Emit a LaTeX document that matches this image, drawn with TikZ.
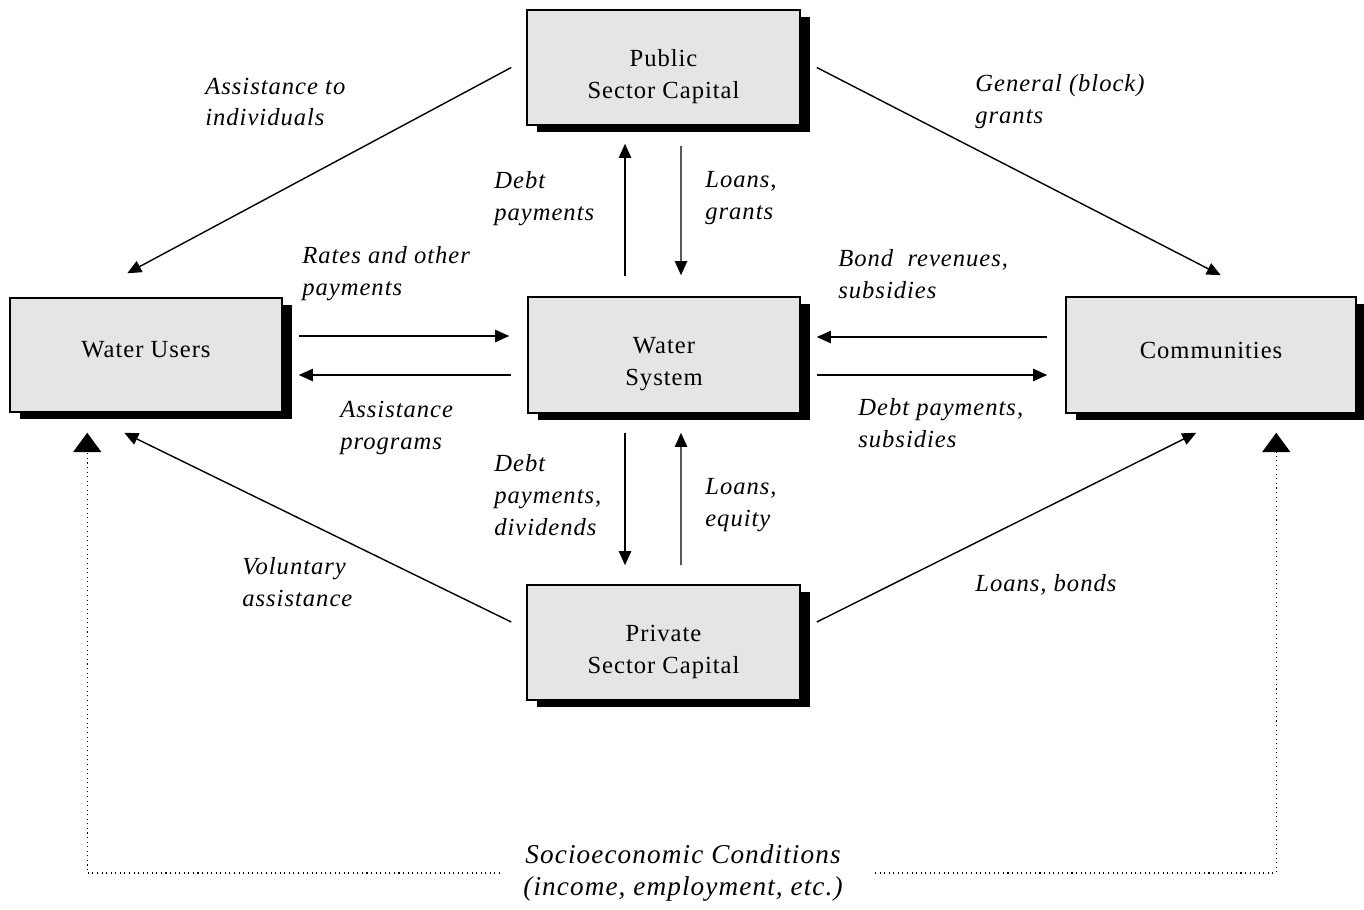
\documentclass[tikz,border=0pt]{standalone}
\usepackage{fontspec}
\setmainfont{Liberation Serif}[LetterSpace=4]
\usetikzlibrary{arrows.meta,shadows,calc}
\definecolor{boxgray}{gray}{0.9}
\begin{document}
\begin{tikzpicture}[x=0.02cm,y=-0.02cm,
 box/.style={draw=black, line width=0.9pt, fill=boxgray, minimum width=5.46cm, minimum height=2.3cm,
   drop shadow={shadow xshift=0.2cm, shadow yshift=-0.14cm, fill=black, opacity=1}},
 boxtext/.style={align=center, inner sep=0pt, font=\fontsize{14}{18.2}\selectfont},
 lbl/.style={font=\fontsize{14}{18.2}\selectfont\itshape, align=left, anchor=west, inner sep=0pt},
 flow/.style={line width=0.8pt, -{Triangle[length=8pt,width=7pt]}},
 dotflow/.style={line width=0.6pt, dotted, -{Triangle[length=11pt,width=16pt]}}]
\useasboundingbox (0,0) rectangle (1364,909);

\node[box] (pub) at (663.5,67.5) {};
\node[box, minimum width=5.44cm, minimum height=2.28cm] (wu) at (146,355) {};
\node[box, minimum width=5.44cm, minimum height=2.32cm] (ws) at (664,355) {};
\node[box, minimum width=5.8cm, minimum height=2.32cm] (com) at (1211,355) {};
\node[box] (pri) at (663.5,642.5) {};

\node[boxtext] (pubt) at ($(pub.center)+(0,9)$) {Public\\Sector Capital};
\node[boxtext] (wut) at ($(wu.center)+(0,-5)$) {Water Users};
\node[boxtext] (wst) at ($(ws.center)+(0,9)$) {Water\\System};
\node[boxtext] (comt) at ($(com.center)+(0,-5)$) {Communities};
\node[boxtext] (prit) at ($(pri.center)+(0,9)$) {Private\\Sector Capital};

\draw[flow] ($(pub.west)+(-15,0)$) -- ($(wu.north west)+(118,-24)$);
\draw[flow] ($(pub.east)+(16,0)$) -- ($(com.north east)+(-136,-21)$);
\draw[flow] ($(ws.north)+(-39,-20)$) -- ($(pub.south)+(-38.5,18)$);
\draw[flow] ($(pub.south)+(17.5,20)$) -- ($(ws.north)+(17,-21)$);
\draw[flow] ($(wu.east)+(16,-19)$) -- ($(ws.west)+(-18,-19)$);
\draw[flow] ($(ws.west)+(-16,20)$) -- ($(wu.east)+(16,20)$);
\draw[flow] ($(com.west)+(-18,-18)$) -- ($(ws.east)+(16,-18)$);
\draw[flow] ($(ws.east)+(16,20)$) -- ($(com.west)+(-18,20)$);
\draw[flow] ($(ws.south)+(-39,19)$) -- ($(pri.north)+(-38.5,-19)$);
\draw[flow] ($(pri.north)+(17.5,-19)$) -- ($(ws.south)+(17,19)$);
\draw[flow] ($(pri.west)+(-15,-20.5)$) -- ($(wu.south west)+(115,20)$);
\draw[flow] ($(pri.east)+(16,-20.5)$) -- ($(com.south west)+(131,19)$);

\node[font=\fontsize{15.5}{18.2}\selectfont\itshape, align=center, inner sep=0pt] (soc) at (683,873)
  {Socioeconomic Conditions\\(income, employment, etc.)};
\coordinate (sl) at (500,873);
\coordinate (sr) at (875,873);
\draw[dotflow] (sl) -| ($(wu.south west)+(78,20)$);
\draw[dotflow] (sr) -| ($(com.south west)+(211,19)$);

\node[lbl] (la) at (205,102) {Assistance to\\individuals};
\node[lbl] (lb) at (975,102) {General (block)\\grants};
\node[lbl] (lc) at (494,198.5) {Debt\\payments};
\node[lbl] (ld) at (705,198.5) {Loans,\\grants};
\node[lbl] (le) at (302,274) {Rates and other\\payments};
\node[lbl] (lf) at (838,274) {Bond\ \ revenues,\\subsidies};
\node[lbl] (lg) at (340,427.5) {Assistance\\programs};
\node[lbl] (lh) at (858,423) {Debt payments,\\subsidies};
\node[lbl] (li) at (494,495) {Debt\\payments,\\dividends};
\node[lbl] (lj) at (705,505) {Loans,\\equity};
\node[lbl] (lk) at (242,582.5) {Voluntary\\assistance};
\node[lbl] (ll) at (975,585) {Loans, bonds};
\end{tikzpicture}
\end{document}
